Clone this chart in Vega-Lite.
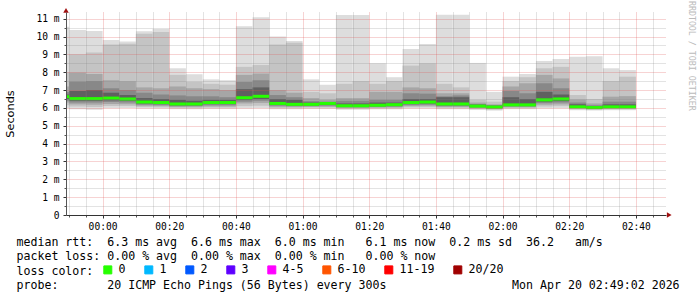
{
  "width": 600,
  "height": 203,
  "autosize": {"type": "none"},
  "padding": {"left": 66, "top": 12, "right": 31, "bottom": 82},
  "background": "white",
  "title": {"text": "RRDTOOL / TOBI OETIKER", "orient": "right", "anchor": "start", "font": "DejaVu Sans Mono", "fontSize": 8.3, "fontWeight": "normal", "color": "#bbbbbb", "offset": 9, "dx": -7},
  "data": {"values": [
    {"t0": -15, "t1": -10, "hiA": 10.55, "hiB": 8.0, "hiC": 7.2, "hiD": 6.9, "hiE": 6.75, "med": 6.63, "loE": 6.5, "loD": 6.4, "loC": 6.3, "loB": 6.15, "loA": 6.0, "loss": "0"},
    {"t0": -10, "t1": -5, "hiA": 10.37, "hiB": 9.0, "hiC": 7.98, "hiD": 7.47, "hiE": 6.95, "med": 6.52, "loE": 6.4, "loD": 6.3, "loC": 6.2, "loB": 6.08, "loA": 5.93, "loss": "0"},
    {"t0": -5, "t1": 0, "hiA": 10.31, "hiB": 9.1, "hiC": 7.9, "hiD": 7.5, "hiE": 7.0, "med": 6.52, "loE": 6.4, "loD": 6.3, "loC": 6.18, "loB": 6.05, "loA": 5.9, "loss": "0"},
    {"t0": 0, "t1": 5, "hiA": 9.8, "hiB": 9.55, "hiC": 7.55, "hiD": 7.1, "hiE": 6.85, "med": 6.55, "loE": 6.42, "loD": 6.33, "loC": 6.22, "loB": 6.1, "loA": 5.98, "loss": "0"},
    {"t0": 5, "t1": 10, "hiA": 9.72, "hiB": 9.6, "hiC": 7.5, "hiD": 7.0, "hiE": 6.72, "med": 6.5, "loE": 6.4, "loD": 6.3, "loC": 6.2, "loB": 6.1, "loA": 6.0, "loss": "0"},
    {"t0": 10, "t1": 15, "hiA": 10.3, "hiB": 10.15, "hiC": 7.15, "hiD": 6.85, "hiE": 6.55, "med": 6.33, "loE": 6.25, "loD": 6.18, "loC": 6.12, "loB": 6.05, "loA": 5.97, "loss": "0"},
    {"t0": 15, "t1": 20, "hiA": 10.42, "hiB": 10.25, "hiC": 7.1, "hiD": 6.75, "hiE": 6.5, "med": 6.3, "loE": 6.22, "loD": 6.16, "loC": 6.1, "loB": 6.04, "loA": 5.97, "loss": "0"},
    {"t0": 20, "t1": 25, "hiA": 8.22, "hiB": 7.85, "hiC": 7.2, "hiD": 6.7, "hiE": 6.45, "med": 6.22, "loE": 6.15, "loD": 6.1, "loC": 6.05, "loB": 6.0, "loA": 5.93, "loss": "0"},
    {"t0": 25, "t1": 30, "hiA": 7.88, "hiB": 7.45, "hiC": 7.1, "hiD": 6.65, "hiE": 6.4, "med": 6.22, "loE": 6.15, "loD": 6.1, "loC": 6.05, "loB": 6.0, "loA": 5.93, "loss": "0"},
    {"t0": 30, "t1": 35, "hiA": 7.6, "hiB": 7.35, "hiC": 7.05, "hiD": 6.65, "hiE": 6.45, "med": 6.3, "loE": 6.22, "loD": 6.15, "loC": 6.08, "loB": 6.02, "loA": 5.95, "loss": "0"},
    {"t0": 35, "t1": 40, "hiA": 7.55, "hiB": 7.3, "hiC": 7.0, "hiD": 6.6, "hiE": 6.45, "med": 6.3, "loE": 6.22, "loD": 6.15, "loC": 6.08, "loB": 6.02, "loA": 5.95, "loss": "0"},
    {"t0": 40, "t1": 45, "hiA": 10.58, "hiB": 8.3, "hiC": 7.85, "hiD": 7.45, "hiE": 7.05, "med": 6.57, "loE": 6.45, "loD": 6.35, "loC": 6.25, "loB": 6.1, "loA": 5.97, "loss": "0"},
    {"t0": 45, "t1": 50, "hiA": 11.08, "hiB": 8.4, "hiC": 7.92, "hiD": 7.55, "hiE": 7.15, "med": 6.65, "loE": 6.5, "loD": 6.4, "loC": 6.28, "loB": 6.12, "loA": 5.98, "loss": "0"},
    {"t0": 50, "t1": 55, "hiA": 10.0, "hiB": 9.55, "hiC": 7.0, "hiD": 6.72, "hiE": 6.5, "med": 6.25, "loE": 6.18, "loD": 6.12, "loC": 6.06, "loB": 6.0, "loA": 5.93, "loss": "0"},
    {"t0": 55, "t1": 60, "hiA": 9.75, "hiB": 9.65, "hiC": 6.85, "hiD": 6.6, "hiE": 6.45, "med": 6.2, "loE": 6.14, "loD": 6.1, "loC": 6.05, "loB": 6.0, "loA": 5.93, "loss": "0"},
    {"t0": 60, "t1": 65, "hiA": 7.6, "hiB": 6.9, "hiC": 6.55, "hiD": 6.38, "hiE": 6.3, "med": 6.2, "loE": 6.15, "loD": 6.1, "loC": 6.06, "loB": 6.02, "loA": 5.95, "loss": "0"},
    {"t0": 65, "t1": 70, "hiA": 7.3, "hiB": 6.82, "hiC": 6.45, "hiD": 6.35, "hiE": 6.3, "med": 6.25, "loE": 6.18, "loD": 6.12, "loC": 6.07, "loB": 6.02, "loA": 5.95, "loss": "0"},
    {"t0": 70, "t1": 75, "hiA": 11.2, "hiB": 7.35, "hiC": 6.55, "hiD": 6.4, "hiE": 6.25, "med": 6.12, "loE": 6.08, "loD": 6.04, "loC": 6.0, "loB": 5.96, "loA": 5.9, "loss": "0"},
    {"t0": 75, "t1": 80, "hiA": 11.2, "hiB": 7.5, "hiC": 6.55, "hiD": 6.4, "hiE": 6.25, "med": 6.12, "loE": 6.08, "loD": 6.04, "loC": 6.0, "loB": 5.96, "loA": 5.9, "loss": "0"},
    {"t0": 80, "t1": 85, "hiA": 8.5, "hiB": 7.35, "hiC": 6.9, "hiD": 6.45, "hiE": 6.3, "med": 6.15, "loE": 6.1, "loD": 6.06, "loC": 6.02, "loB": 5.98, "loA": 5.92, "loss": "0"},
    {"t0": 85, "t1": 90, "hiA": 7.72, "hiB": 7.5, "hiC": 6.9, "hiD": 6.45, "hiE": 6.3, "med": 6.18, "loE": 6.12, "loD": 6.07, "loC": 6.03, "loB": 5.98, "loA": 5.92, "loss": "0"},
    {"t0": 90, "t1": 95, "hiA": 9.3, "hiB": 8.37, "hiC": 7.15, "hiD": 6.82, "hiE": 6.5, "med": 6.3, "loE": 6.22, "loD": 6.16, "loC": 6.1, "loB": 6.04, "loA": 5.97, "loss": "0"},
    {"t0": 95, "t1": 100, "hiA": 9.58, "hiB": 8.5, "hiC": 7.1, "hiD": 6.8, "hiE": 6.5, "med": 6.33, "loE": 6.25, "loD": 6.18, "loC": 6.12, "loB": 6.05, "loA": 5.97, "loss": "0"},
    {"t0": 100, "t1": 105, "hiA": 11.22, "hiB": 7.35, "hiC": 6.82, "hiD": 6.65, "hiE": 6.6, "med": 6.22, "loE": 6.15, "loD": 6.1, "loC": 6.05, "loB": 6.0, "loA": 5.93, "loss": "0"},
    {"t0": 105, "t1": 110, "hiA": 11.22, "hiB": 7.15, "hiC": 6.82, "hiD": 6.7, "hiE": 6.6, "med": 6.22, "loE": 6.15, "loD": 6.1, "loC": 6.05, "loB": 6.0, "loA": 5.93, "loss": "0"},
    {"t0": 110, "t1": 115, "hiA": 8.52, "hiB": 6.45, "hiC": 6.3, "hiD": 6.22, "hiE": 6.18, "med": 6.1, "loE": 6.05, "loD": 6.02, "loC": 5.98, "loB": 5.94, "loA": 5.88, "loss": "0"},
    {"t0": 115, "t1": 120, "hiA": 6.9, "hiB": 6.35, "hiC": 6.2, "hiD": 6.15, "hiE": 6.12, "med": 6.05, "loE": 6.0, "loD": 5.97, "loC": 5.94, "loB": 5.9, "loA": 5.85, "loss": "0"},
    {"t0": 120, "t1": 125, "hiA": 7.75, "hiB": 7.5, "hiC": 7.2, "hiD": 6.95, "hiE": 6.6, "med": 6.17, "loE": 6.12, "loD": 6.08, "loC": 6.04, "loB": 6.0, "loA": 5.93, "loss": "0"},
    {"t0": 125, "t1": 130, "hiA": 7.9, "hiB": 7.72, "hiC": 7.38, "hiD": 6.82, "hiE": 6.5, "med": 6.17, "loE": 6.12, "loD": 6.08, "loC": 6.04, "loB": 6.0, "loA": 5.93, "loss": "0"},
    {"t0": 130, "t1": 135, "hiA": 8.63, "hiB": 8.22, "hiC": 7.85, "hiD": 7.38, "hiE": 6.9, "med": 6.45, "loE": 6.35, "loD": 6.27, "loC": 6.18, "loB": 6.08, "loA": 5.97, "loss": "0"},
    {"t0": 135, "t1": 140, "hiA": 8.74, "hiB": 8.3, "hiC": 7.65, "hiD": 7.1, "hiE": 6.75, "med": 6.5, "loE": 6.38, "loD": 6.3, "loC": 6.2, "loB": 6.1, "loA": 5.98, "loss": "0"},
    {"t0": 140, "t1": 145, "hiA": 8.87, "hiB": 6.72, "hiC": 6.47, "hiD": 6.3, "hiE": 6.2, "med": 6.06, "loE": 6.02, "loD": 5.99, "loC": 5.96, "loB": 5.92, "loA": 5.87, "loss": "0"},
    {"t0": 145, "t1": 150, "hiA": 8.9, "hiB": 6.5, "hiC": 6.25, "hiD": 6.15, "hiE": 6.1, "med": 6.02, "loE": 5.99, "loD": 5.96, "loC": 5.93, "loB": 5.9, "loA": 5.85, "loss": "0"},
    {"t0": 150, "t1": 155, "hiA": 8.22, "hiB": 7.5, "hiC": 6.63, "hiD": 6.35, "hiE": 6.2, "med": 6.06, "loE": 6.02, "loD": 5.99, "loC": 5.96, "loB": 5.92, "loA": 5.87, "loss": "0"},
    {"t0": 155, "t1": 160, "hiA": 8.12, "hiB": 7.75, "hiC": 6.66, "hiD": 6.35, "hiE": 6.2, "med": 6.06, "loE": 6.02, "loD": 5.99, "loC": 5.96, "loB": 5.92, "loA": 5.87, "loss": "0"}
  ]},
  "layer": [
    {
      "mark": {"type": "rect", "color": "#dddddd", "clip": true},
      "encoding": {
        "x": {"field": "t0", "type": "quantitative", "scale": {"domain": [-10.967, 169.033], "nice": false, "zero": false},
          "axis": {"orient": "bottom", "values": [-10,-5,5,10,15,25,30,35,45,50,55,65,70,75,85,90,95,105,110,115,125,130,135,145,150,155,165], "labels": false, "domain": false, "tickSize": 2, "tickColor": "#555555", "grid": true, "gridColor": "#808080", "gridOpacity": 0.45, "gridDash": [1, 1], "title": null, "zindex": 1}},
        "x2": {"field": "t1"},
        "y": {"field": "loA", "type": "quantitative", "scale": {"domain": [0, 11.373], "nice": false, "zero": true},
          "axis": {"orient": "left", "values": [0.5,1.5,2.5,3.5,4.5,5.5,6.5,7.5,8.5,9.5,10.5], "labels": false, "domain": false, "tickSize": 2, "tickColor": "#555555", "grid": true, "gridColor": "#808080", "gridOpacity": 0.45, "gridDash": [1, 1], "title": null, "zindex": 1}},
        "y2": {"field": "hiA"}
      }
    },
    {
      "mark": {"type": "rect", "color": "#c4c4c4", "clip": true},
      "encoding": {
        "x": {"field": "t0", "type": "quantitative", "axis": null},
        "x2": {"field": "t1"},
        "y": {"field": "loB", "type": "quantitative", "axis": null},
        "y2": {"field": "hiB"}
      }
    },
    {
      "mark": {"type": "rect", "color": "#a6a6a6", "clip": true},
      "encoding": {
        "x": {"field": "t0", "type": "quantitative", "axis": null},
        "x2": {"field": "t1"},
        "y": {"field": "loC", "type": "quantitative", "axis": null},
        "y2": {"field": "hiC"}
      }
    },
    {
      "mark": {"type": "rect", "color": "#888888", "clip": true},
      "encoding": {
        "x": {"field": "t0", "type": "quantitative", "axis": null},
        "x2": {"field": "t1"},
        "y": {"field": "loD", "type": "quantitative", "axis": null},
        "y2": {"field": "hiD"}
      }
    },
    {
      "mark": {"type": "rect", "color": "#606060", "clip": true},
      "encoding": {
        "x": {"field": "t0", "type": "quantitative", "axis": null},
        "x2": {"field": "t1"},
        "y": {"field": "loE", "type": "quantitative", "axis": null},
        "y2": {"field": "hiE"}
      }
    },
    {
      "mark": {"type": "rule", "strokeWidth": 3, "strokeCap": "butt", "clip": true},
      "encoding": {
        "x": {"field": "t0", "type": "quantitative",
          "axis": {"orient": "bottom", "values": [0,20,40,60,80,100,120,140,160],
            "labelExpr": "timeFormat(datetime(2026, 3, 20, 0, datum.value), '%H:%M')",
            "labelFont": "DejaVu Sans Mono", "labelFontSize": 9.6, "labelColor": "#000000", "labelPadding": 3, "labelFlush": false, "labelOverlap": false,
            "tickSize": 3, "tickColor": "#333333", "domainColor": "#333333",
            "grid": true, "gridColor": "#e05050", "gridOpacity": 0.5, "gridDash": [1, 1], "zindex": 1,
            "title": ["median rtt:\u00a0\u00a06.3 ms avg\u00a0\u00a06.6 ms max\u00a0\u00a06.0 ms min\u00a0\u00a0\u00a06.1 ms now\u00a0\u00a00.2 ms sd\u00a0\u00a036.2\u00a0\u00a0\u00a0am/s",
                      "packet loss: 0.00 % avg\u00a0\u00a00.00 % max\u00a0\u00a00.00 % min\u00a0\u00a0\u00a00.00 % now",
                      "loss color:",
                      "probe:\u00a0\u00a0\u00a0\u00a0\u00a0\u00a0\u00a020 ICMP Echo Pings (56 Bytes) every 300s\u00a0\u00a0\u00a0\u00a0\u00a0\u00a0\u00a0\u00a0\u00a0\u00a0\u00a0\u00a0\u00a0\u00a0\u00a0\u00a0\u00a0\u00a0Mon Apr 20 02:49:02 2026"],
            "titleFont": "DejaVu Sans Mono", "titleFontSize": 11.6, "titleFontWeight": "normal", "titleColor": "#000000",
            "titleAlign": "left", "titleAnchor": "start", "titleBaseline": "top", "titleX": -50, "titleY": 21, "titleLineHeight": 14.6}},
        "x2": {"field": "t1"},
        "y": {"field": "med", "type": "quantitative",
          "axis": {"orient": "left", "values": [0,1,2,3,4,5,6,7,8,9,10,11],
            "labelExpr": "datum.value == 0 ? '0' : datum.value + ' m'",
            "labelFont": "DejaVu Sans Mono", "labelFontSize": 9.6, "labelColor": "#000000", "labelPadding": 4, "labelFlush": false, "labelOverlap": false,
            "tickSize": 3, "tickColor": "#333333", "domainColor": "#555555",
            "grid": true, "gridColor": "#e05050", "gridOpacity": 0.5, "gridDash": [1, 1], "zindex": 1,
            "title": "Seconds", "titleFont": "DejaVu Sans", "titleFontSize": 11.3, "titleFontWeight": "normal", "titleColor": "#000000",
            "titleAngle": 270, "titleAlign": "center", "titleBaseline": "middle", "titleX": -56, "titleY": 101.5}},
        "color": {"field": "loss", "type": "nominal",
          "scale": {"domain": ["0", "1", "2", "3", "4-5", "6-10", "11-19", "20/20"],
                    "range": ["#26ff00", "#00b8ff", "#0059ff", "#5e00ff", "#ff00ff", "#ff5500", "#ff0000", "#a00000"]},
          "legend": {"orient": "none", "legendX": 36, "legendY": 252, "direction": "horizontal", "title": null,
            "symbolType": "square", "symbolSize": 64, "symbolStrokeWidth": 1, "symbolStrokeColor": "#000000", "symbolOpacity": 1,
            "labelFont": "DejaVu Sans Mono", "labelFontSize": 11.6, "labelColor": "#000000", "labelOffset": 5, "columnPadding": 16, "padding": 0,
            "encode": {"symbols": {
              "enter": {"fill": {"scale": "color", "field": "value"}, "stroke": {"value": "#000000"}, "strokeWidth": {"value": 1}, "opacity": {"value": 1}},
              "update": {"fill": {"scale": "color", "field": "value"}, "stroke": {"value": "#000000"}, "strokeWidth": {"value": 1}, "opacity": {"value": 1}}}}}}
      }
    },
    {
      "data": {"values": [{"arrow": "y"}]},
      "mark": {"type": "point", "shape": "triangle-up", "filled": true, "size": 30, "color": "#a01010", "opacity": 1},
      "encoding": {
        "x": {"datum": -10.967, "type": "quantitative", "axis": null},
        "y": {"datum": 11.47, "type": "quantitative", "axis": null}
      }
    },
    {
      "data": {"values": [{"arrow": "x"}]},
      "mark": {"type": "point", "shape": "triangle-right", "filled": true, "size": 30, "color": "#a01010", "opacity": 1},
      "encoding": {
        "x": {"datum": 170.0, "type": "quantitative", "axis": null},
        "y": {"datum": 0, "type": "quantitative", "axis": null}
      }
    }
  ],
  "resolve": {"axis": {"x": "independent", "y": "independent"}},
  "config": {"view": {"stroke": null}}
}
